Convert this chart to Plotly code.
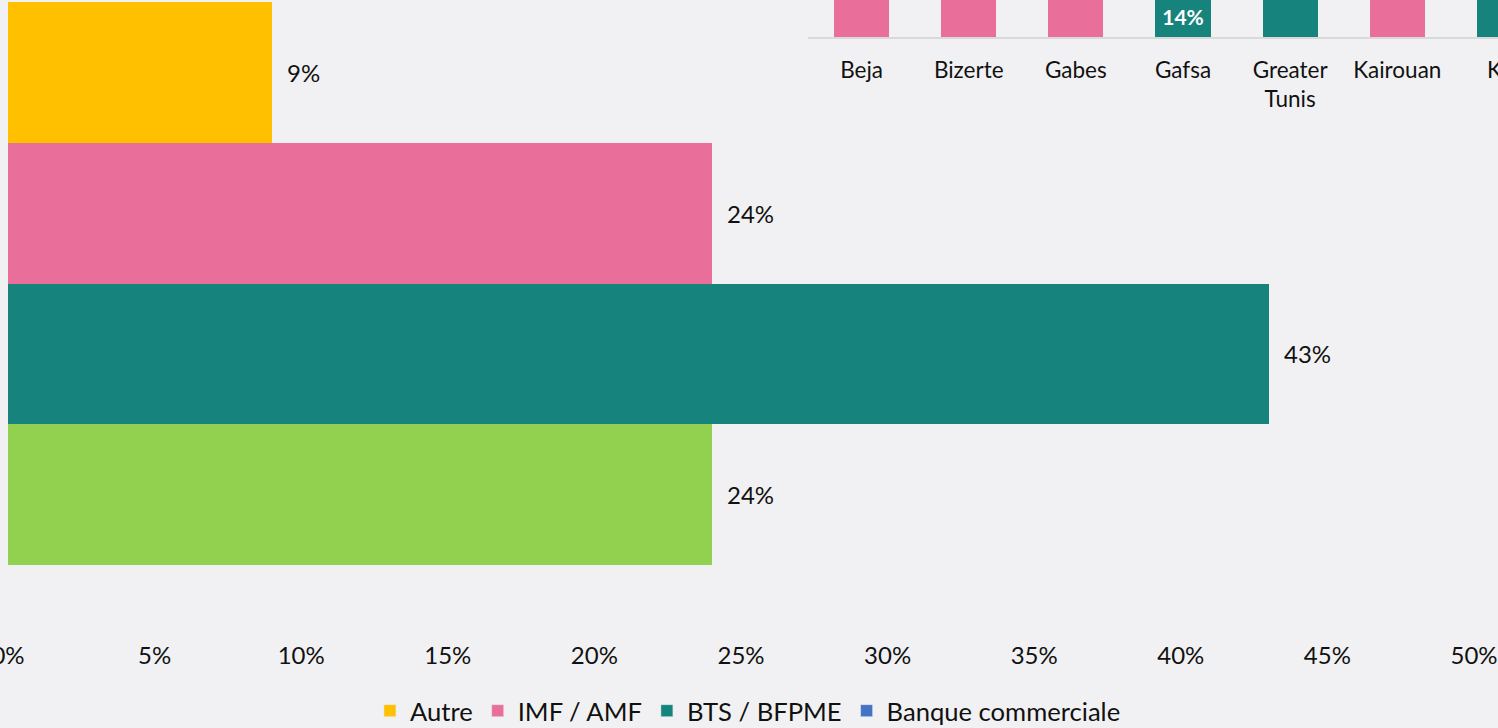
import plotly.graph_objects as go

# ---- main chart data ----
series = ["Autre", "IMF / AMF", "BTS / BFPME", "Banque commerciale"]
values = [9, 24, 43, 24]
bar_colors = ["#FFC000", "#EA6E9A", "#17837D", "#92D050"]
legend_colors = ["#FFC000", "#EA6E9A", "#17837D", "#4472C4"]
x_ticks = [0, 5, 10, 15, 20, 25, 30, 35, 40, 45, 50]

# ---- inset chart data (by region, stacked) ----
regions = ["Beja", "Bizerte", "Gabes", "Gafsa", "Greater<br>Tunis", "Kairouan", "Kef"]
inset_imf = [50, 45, 60, 0, 0, 55, 0]
inset_bts = [30, 35, 25, 14, 60, 30, 50]
inset_imf_labels = ["", "", "", "", "", "", ""]
inset_bts_labels = ["", "", "", "14%", "", "", ""]

FONT = "Lato"
BG = "#F1F1F3"
INK = "#111111"

fig = go.Figure()

# main bars: categories ordered bottom-to-top on the y axis
y_order = list(reversed(series))
for name, val, col in zip(series, values, bar_colors):
    fig.add_trace(go.Bar(
        x=[val], y=[name], orientation="h", width=1,
        marker=dict(color=col, line=dict(width=0)),
        name=name, showlegend=False, hoverinfo="x+y",
        xaxis="x", yaxis="y",
    ))
# legend entries
for name, col in zip(series, legend_colors):
    fig.add_trace(go.Bar(
        x=[None], y=[None], orientation="h", name=name,
        marker=dict(color=col), showlegend=True,
        xaxis="x", yaxis="y",
    ))

# value labels on the right of main bars
for name, val in zip(series, values):
    fig.add_annotation(
        x=val, y=name, xref="x", yref="y", text=f"{val}%",
        showarrow=False, xanchor="left", xshift=13,
        font=dict(family=FONT, size=24, color=INK),
    )

# inset stacked bars
fig.add_trace(go.Bar(
    x=regions, y=inset_imf, width=0.514, name="IMF / AMF",
    marker=dict(color="#EA6E9A", line=dict(width=0)),
    text=inset_imf_labels, textposition="inside", insidetextanchor="middle",
    textfont=dict(family=FONT, size=21, color="white", weight="bold"),
    showlegend=False, xaxis="x2", yaxis="y2", cliponaxis=True,
))
fig.add_trace(go.Bar(
    x=regions, y=inset_bts, width=0.514, name="BTS / BFPME",
    marker=dict(color="#17837D", line=dict(width=0)),
    text=inset_bts_labels, textposition="inside", insidetextanchor="middle",
    textfont=dict(family=FONT, size=21, color="white", weight="bold"),
    showlegend=False, xaxis="x2", yaxis="y2", cliponaxis=True,
))

W, H = 1498, 728
ml, mr, mt, mb = 8, 0, 0, 95
plot_w = W - ml - mr
plot_h = H - mt - mb
main_right = (1474 - ml) / plot_w
inset_left = (808 - ml) / plot_w
inset_bottom = (plot_h - 37) / plot_h
x2_range = [-0.5, 5.94]

# y range of the main chart so that the bar block spans pixels 2..565
bar_top_px, bar_bot_px = 2, 565
unit = (bar_bot_px - bar_top_px) / len(series)
y_range = [-0.5 - (plot_h - bar_bot_px) / unit, len(series) - 0.5 + bar_top_px / unit]

# partially visible label of the cut-off last region
last_frac = (len(regions) - 1 - x2_range[0]) / (x2_range[1] - x2_range[0])
fig.add_annotation(
    x=last_frac, y=0, xref="x2 domain", yref="y2 domain",
    text=regions[-1], showarrow=False, xanchor="center", yanchor="top",
    yshift=-17, font=dict(family=FONT, size=22.5, color=INK),
)

legend_y = -(711 - plot_h) / plot_h

fig.update_layout(
    width=W, height=H, autosize=False,
    margin=dict(l=ml, r=mr, t=mt, b=mb, pad=0, autoexpand=False),
    paper_bgcolor=BG, plot_bgcolor="rgba(0,0,0,0)",
    barmode="stack",
    font=dict(family=FONT, color=INK),
    showlegend=True,
    legend=dict(
        orientation="h", x=0.4966, xanchor="center", y=legend_y, yanchor="middle",
        font=dict(family=FONT, size=25.6, color=INK),
        bgcolor="rgba(0,0,0,0)", traceorder="normal",
    ),
    xaxis=dict(
        domain=[0, main_right], range=[0, 50], tickvals=x_ticks,
        ticktext=[f"{t}%" for t in x_ticks], ticklabeloverflow="allow",
        showgrid=False, zeroline=False, showline=False, automargin=False,
        ticks="outside", ticklen=1, tickcolor="rgba(0,0,0,0)",
        tickfont=dict(family=FONT, size=24, color=INK),
        fixedrange=True,
    ),
    yaxis=dict(
        domain=[0, 1], type="category", categoryorder="array", categoryarray=y_order,
        range=y_range, showticklabels=False, showgrid=False,
        zeroline=False, showline=False, ticks="", fixedrange=True, automargin=False,
    ),
    xaxis2=dict(
        domain=[inset_left, 1], anchor="y2", type="category",
        categoryorder="array", categoryarray=regions, range=x2_range,
        showgrid=False, zeroline=False, showline=True, linecolor="#D9D9D9", linewidth=1.5,
        ticks="outside", ticklen=12, tickcolor="rgba(0,0,0,0)", automargin=False,
        tickfont=dict(family=FONT, size=22.5, color=INK),
        fixedrange=True,
    ),
    yaxis2=dict(
        domain=[inset_bottom, 1], anchor="x2", range=[0, 37 / 3],
        showgrid=False, zeroline=False, showline=False, showticklabels=False,
        ticks="", fixedrange=True, automargin=False,
    ),
)

post = (
    "document.body.style.margin='0';"
    "document.body.style.overflow='hidden';"
    "document.body.style.background='" + BG + "';"
    "Plotly.relayout('{plot_id}', {width: 1498, height: 728});"
)
fig.write_html("out.html", post_script=post,
               config={"responsive": False, "displayModeBar": False})
